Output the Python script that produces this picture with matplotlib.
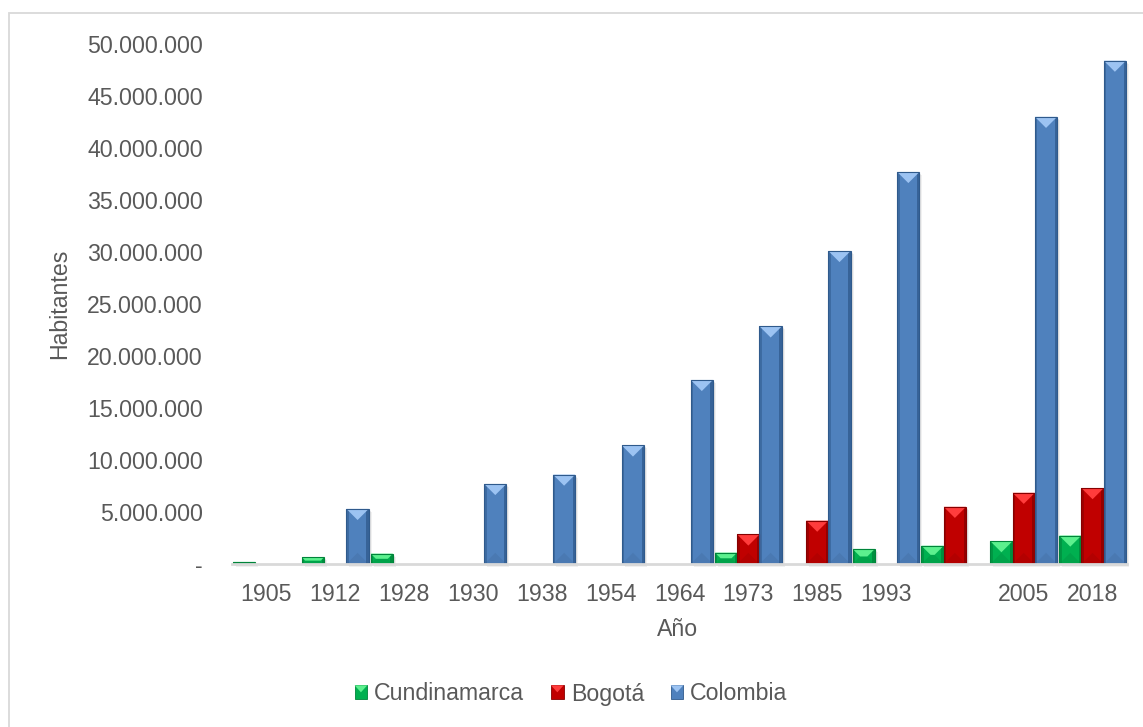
import numpy as np
import matplotlib
matplotlib.use("Agg")
import matplotlib.pyplot as plt
from matplotlib.patches import Polygon, Rectangle, Patch
from matplotlib.legend_handler import HandlerBase
from matplotlib.ticker import FuncFormatter, MultipleLocator

# Census population (inhabitants)
years = ["1905", "1912", "1928", "1930", "1938", "1954", "1964",
         "1973", "1985", "1993", "", "2005", "2018"]
cundinamarca = [200_000, 650_000, 1_000_000, 0, 0, 0, 0,
                1_100_000, 0, 1_450_000, 1_760_000, 2_200_000, 2_740_000]
bogota = [0, 0, 0, 0, 0, 0, 0,
          2_840_000, 4_170_000, 0, 5_500_000, 6_850_000, 7_300_000]
colombia = [0, 5_300_000, 0, 7_700_000, 8_600_000, 11_400_000, 17_700_000,
            22_850_000, 30_100_000, 37_700_000, 0, 43_000_000, 48_400_000]

series = [
    ("Cundinamarca", cundinamarca, dict(base="#00b050", light="#5cf08e", dark="#00843a", bottom="#00a34a")),
    ("Bogotá", bogota, dict(base="#c00000", light="#ff3c3c", dark="#860000", bottom="#b30000")),
    ("Colombia", colombia, dict(base="#4f81bd", light="#9cc3f2", dark="#2f5a8c", bottom="#4a79b2")),
]

TEXT = "#595959"
plt.rcParams["font.family"] = ["Liberation Sans", "DejaVu Sans"]
FS = 16.7

W_PX, H_PX = 1143, 727
fig = plt.figure(figsize=(W_PX / 100, H_PX / 100), dpi=100)
fig.patch.set_facecolor("white")

# chart area border
fig.add_artist(Rectangle((9 / W_PX, -0.2), 1.3, 1 - 13 / H_PX + 0.2,
                         transform=fig.transFigure, fill=False,
                         ec="#d9d9d9", lw=1.3, zorder=0))

ax_l, ax_r, ax_t, ax_b = 232, 1127, 44, 564
ax = fig.add_axes([ax_l / W_PX, 1 - ax_b / H_PX,
                   (ax_r - ax_l) / W_PX, (ax_b - ax_t) / H_PX])

n = len(years)
x = np.arange(n)
ymax = 50_000_000
ax.set_xlim(-0.5, n - 0.5)
ax.set_ylim(0, ymax)

sx = (ax_r - ax_l) / n          # pixels per category
sy = (ax_b - ax_t) / ymax       # pixels per inhabitant
bw = 0.324                      # bar width in category units

def bevel_bar(x0, w, h, c):
    if h <= 0:
        return
    w_px, h_px = w * sx, h * sy
    # soft shadow (right / below)
    for k, a in ((3.0, 0.10), (2.0, 0.14), (1.0, 0.18)):
        ax.add_patch(Rectangle((x0 + k / sx, -k / sy), w, h, fc="#7f7f7f",
                               ec="none", alpha=a, zorder=1, clip_on=False))
    ax.add_patch(Rectangle((x0, 0), w, h, fc=c["base"], ec="none", zorder=2))
    d_px = min(w_px / 2, h_px / 2)
    dx, dy = d_px / sx, d_px / sy
    # bottom bevel
    ax.add_patch(Polygon([(x0, 0), (x0 + w, 0), (x0 + w - dx, dy), (x0 + dx, dy)],
                         closed=True, fc=c["bottom"], ec="none", zorder=3))
    # side shading
    s = 2.5
    ax.add_patch(Rectangle((x0, 0), s / sx, h, fc=c["dark"], ec="none",
                           alpha=0.55, zorder=3))
    ax.add_patch(Rectangle((x0 + w - s / sx, 0), s / sx, h, fc=c["dark"],
                           ec="none", alpha=0.75, zorder=3))
    # lit top bevel
    ax.add_patch(Polygon([(x0, h), (x0 + w, h), (x0 + w - dx, h - dy), (x0 + dx, h - dy)],
                         closed=True, fc=c["light"], ec="none", zorder=4))
    ax.add_patch(Rectangle((x0, 0), w, h, fill=False, ec=c["dark"], lw=0.8, zorder=5))

for j, (name, vals, c) in enumerate(series):
    offs = (j - 1) * bw
    bars = ax.bar(x + offs, vals, width=bw, color="none", lw=0)
    for rect, v in zip(bars, vals):
        bevel_bar(rect.get_x(), rect.get_width(), v, c)

# axes styling
for side in ("left", "right", "top"):
    ax.spines[side].set_visible(False)
ax.spines["bottom"].set_color("#d9d9d9")
ax.spines["bottom"].set_linewidth(2.0)
ax.spines["bottom"].set_zorder(6)

ax.set_xticks(x)
ax.set_xticklabels(years)
ax.yaxis.set_major_locator(MultipleLocator(5_000_000))
ax.yaxis.set_major_formatter(FuncFormatter(
    lambda v, p: "-" if v == 0 else f"{int(v):,}".replace(",", ".")))
ax.tick_params(axis="x", length=0, pad=14, labelsize=FS, colors=TEXT)
ax.tick_params(axis="y", length=0, pad=21, labelsize=FS, colors=TEXT)

fig.text(60 / W_PX, 1 - 304 / H_PX, "Habitantes", rotation=90,
         ha="center", va="center", fontsize=FS, color=TEXT)
fig.text(678 / W_PX, 1 - 630 / H_PX, "Año", ha="center", va="center",
         fontsize=FS, color=TEXT)

class BevelHandler(HandlerBase):
    def __init__(self, c):
        super().__init__()
        self.c = c

    def create_artists(self, legend, orig_handle, xdescent, ydescent,
                       width, height, fontsize, trans):
        x0, y0 = -xdescent, -ydescent
        r = Rectangle((x0, y0), width, height, fc=self.c["base"],
                      ec=self.c["dark"], lw=0.6, transform=trans)
        t = Polygon([(x0, y0 + height), (x0 + width, y0 + height),
                     (x0 + width / 2, y0 + height / 2)], closed=True,
                    fc=self.c["light"], ec="none", transform=trans)
        return [r, t]

handles, hmap = [], {}
for name, vals, c in series:
    h = Patch(label=name)
    handles.append(h)
    hmap[h] = BevelHandler(c)

fig.legend(handles=handles, handler_map=hmap, loc="center",
           bbox_to_anchor=(0.4996, 1 - 694 / H_PX), ncol=3, frameon=False,
           fontsize=FS, labelcolor=TEXT, handlelength=0.55, handleheight=0.55,
           handletextpad=0.3, columnspacing=1.15)

fig.savefig("out.png", dpi=100)
